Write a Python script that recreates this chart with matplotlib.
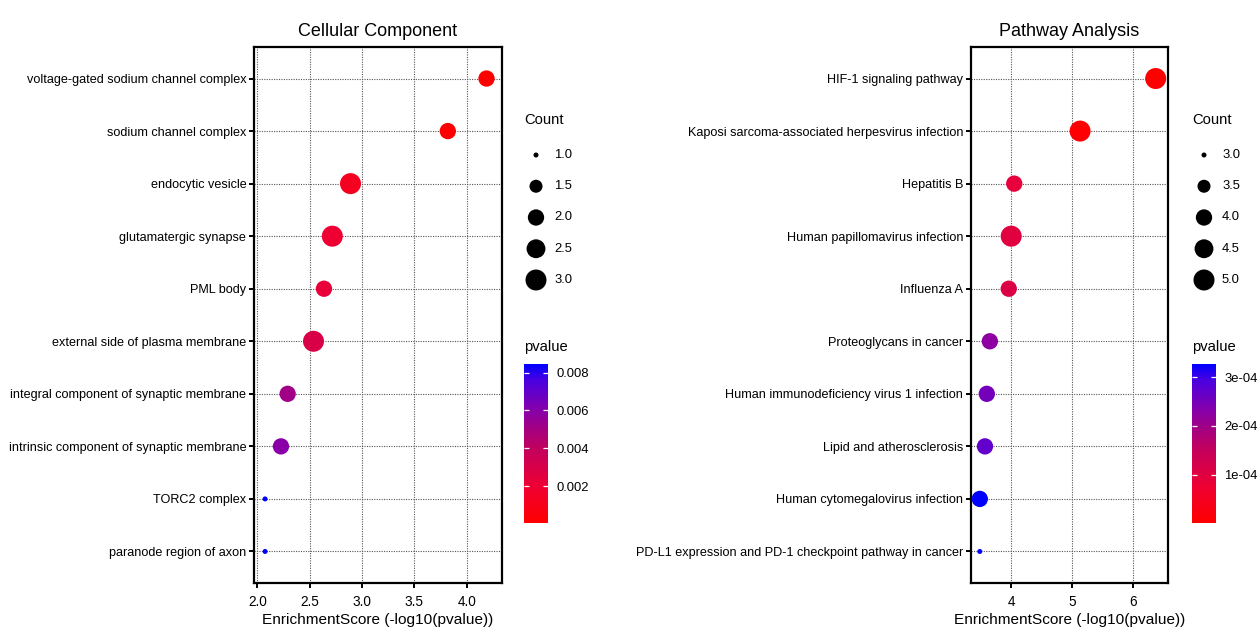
"""
GO cellular component and KEGG pathway dot plots, side by side.
"""
import numpy as np
import matplotlib
matplotlib.use("Agg")
import matplotlib.pyplot as plt
from matplotlib.colors import LinearSegmentedColormap, Normalize

plt.rcParams['font.family'] = ['Liberation Sans', 'DejaVu Sans']

# ---- data ----
cc_terms = ["voltage-gated sodium channel complex", "sodium channel complex",
            "endocytic vesicle", "glutamatergic synapse", "PML body",
            "external side of plasma membrane",
            "integral component of synaptic membrane",
            "intrinsic component of synaptic membrane", "TORC2 complex",
            "paranode region of axon"]
cc_score = [4.19, 3.82, 2.89, 2.716, 2.636, 2.536, 2.289, 2.225, 2.073, 2.073]
cc_count = [2, 2, 3, 3, 2, 3, 2, 2, 1, 1]
cc_xticks = [2.0, 2.5, 3.0, 3.5, 4.0]
cc_xticklabels = ["2.0", "2.5", "3.0", "3.5", "4.0"]
cc_size_breaks = [1.0, 1.5, 2.0, 2.5, 3.0]
cc_size_labels = ["1.0", "1.5", "2.0", "2.5", "3.0"]
cc_p_breaks = [0.002, 0.004, 0.006, 0.008]
cc_p_labels = ["0.002", "0.004", "0.006", "0.008"]

pw_terms = ["HIF-1 signaling pathway",
            "Kaposi sarcoma-associated herpesvirus infection", "Hepatitis B",
            "Human papillomavirus infection", "Influenza A",
            "Proteoglycans in cancer",
            "Human immunodeficiency virus 1 infection",
            "Lipid and atherosclerosis", "Human cytomegalovirus infection",
            "PD-L1 expression and PD-1 checkpoint pathway in cancer"]
pw_score = [6.37, 5.13, 4.05, 4.0, 3.96, 3.65, 3.60, 3.57, 3.485, 3.485]
pw_count = [5, 5, 4, 5, 4, 4, 4, 4, 4, 3]
pw_xticks = [4, 5, 6]
pw_xticklabels = ["4", "5", "6"]
pw_size_breaks = [3.0, 3.5, 4.0, 4.5, 5.0]
pw_size_labels = ["3.0", "3.5", "4.0", "4.5", "5.0"]
pw_p_breaks = [1e-4, 2e-4, 3e-4]
pw_p_labels = ["1e-04", "2e-04", "3e-04"]

W, H = 1260, 633

# red (low p) -> blue (high p), stops picked to look like the original png
cmap = LinearSegmentedColormap.from_list("redblue", [
  (0.0, "#ff0000"), (0.22, "#f00032"), (0.47, "#c2005e"),
  (0.61, "#a00088"), (0.72, "#8400ae"), (0.9, "#4a00e0"), (1.0, "#0000ff")])


def px_rect(x0, y0, x1, y1):
  return [x0 / W, 1 - y1 / H, (x1 - x0) / W, (y1 - y0) / H]


def dot_size(c, cmin, cmax):
  # ggplot area palette: diameter grows with sqrt of the rescaled count
  d = 5.0 + 16 * np.sqrt((c - cmin) / (cmax - cmin))
  return (d * 0.72) ** 2


def dot_panel(fig, rect, terms, score, count, title, xticks, xticklabels):
  ax = fig.add_axes(rect)
  score = np.array(score)
  count = np.array(count, float)
  pval = 10 ** (-score)
  norm = Normalize(pval.min(), pval.max())
  ypos = np.arange(len(terms))
  ax.scatter(score, ypos, s=dot_size(count, count.min(), count.max()),
             c=pval, cmap=cmap, norm=norm, edgecolors='none', zorder=3)
  ax.set_yticks(ypos)
  ax.set_yticklabels(terms, fontsize=9.1)
  ax.set_ylim(len(terms) - 0.4, -0.6)
  span = score.max() - score.min()
  ax.set_xlim(score.min() - 0.05 * span, score.max() + 0.07 * span)
  ax.set_xticks(xticks)
  ax.set_xticklabels(xticklabels, fontsize=9.8)
  ax.grid(True, linestyle=(0, (1, 1.2)), color='#555555', linewidth=0.8)
  ax.set_axisbelow(True)
  for sp in ax.spines.values():
    sp.set_linewidth(1.6)
  ax.tick_params(length=3.5, width=1.4, pad=2)
  ax.tick_params(axis='x', pad=5)
  ax.set_title(title, fontsize=13, pad=8)
  ax.set_xlabel("EnrichmentScore (-log10(pvalue))", fontsize=11.1, labelpad=3)
  return pval, norm, count


def legends(fig, lax, x0, count, pval, norm, size_breaks, size_labels, p_breaks, p_labels):
  lax.text(x0, 120, "Count", fontsize=10.6, va='center', ha='left')
  ys = np.linspace(155, 280, len(size_breaks))
  lax.scatter([x0 + 12] * len(size_breaks), ys,
              s=dot_size(np.array(size_breaks), count.min(), count.max()),
              color='black', edgecolors='none')
  for y, lab in zip(ys, size_labels):
    lax.text(x0 + 30, y, lab, fontsize=9.4, va='center', ha='left')
  lax.text(x0, 347, "pvalue", fontsize=10.6, va='center', ha='left')
  cax = fig.add_axes(px_rect(x0, 364, x0 + 24, 523))
  grad = np.linspace(norm.vmin, norm.vmax, 256)[:, None]
  cax.imshow(grad, extent=[0, 1, norm.vmin, norm.vmax], aspect='auto',
             origin='lower', cmap=cmap, norm=norm)
  cax.set_xlim(0, 1)
  cax.set_ylim(norm.vmin, norm.vmax)
  cax.hlines(p_breaks, 0, 0.22, color='white', linewidth=0.9)
  cax.hlines(p_breaks, 0.78, 1, color='white', linewidth=0.9)
  cax.set_xticks([])
  cax.yaxis.tick_right()
  cax.set_yticks(p_breaks)
  cax.set_yticklabels(p_labels, fontsize=9.4)
  cax.tick_params(length=0, pad=6)
  for sp in cax.spines.values():
    sp.set_visible(False)


fig = plt.figure(figsize=(W / 100, H / 100), dpi=100)
lax = fig.add_axes([0, 0, 1, 1])
lax.set_xlim(0, W)
lax.set_ylim(H, 0)
lax.axis('off')

p1, n1, c1 = dot_panel(fig, px_rect(254, 47, 502, 583), cc_terms, cc_score, cc_count,
                       "Cellular Component", cc_xticks, cc_xticklabels)
p2, n2, c2 = dot_panel(fig, px_rect(971, 47, 1168, 583), pw_terms, pw_score, pw_count,
                       "Pathway Analysis", pw_xticks, pw_xticklabels)
legends(fig, lax, 524, c1, p1, n1, cc_size_breaks, cc_size_labels, cc_p_breaks, cc_p_labels)
legends(fig, lax, 1192, c2, p2, n2, pw_size_breaks, pw_size_labels, pw_p_breaks, pw_p_labels)

fig.savefig("out.png", dpi=100)
